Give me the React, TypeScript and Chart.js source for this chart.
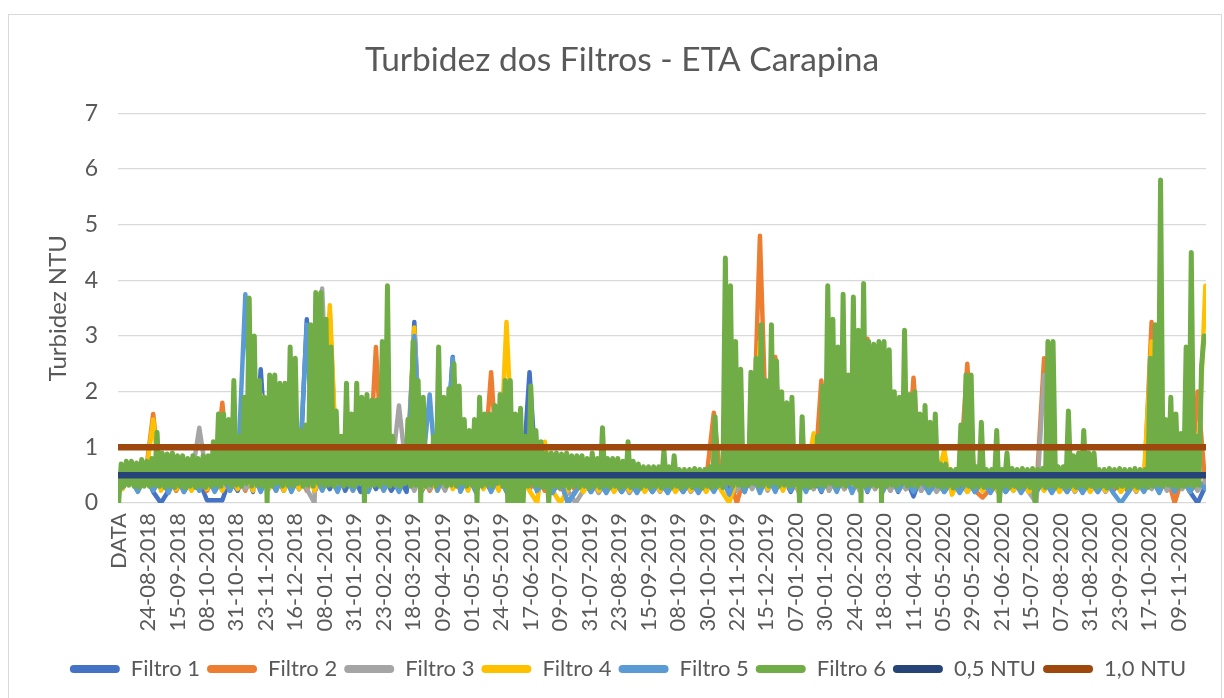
import React, { useEffect, useRef } from "react";
import { Chart, registerables } from "chart.js";

Chart.register(...registerables);

// ---- Category tick labels (one label every LABEL_STEP rows) ----
const tickLabels = [
  "DATA", "24-08-2018", "15-09-2018", "08-10-2018", "31-10-2018", "23-11-2018", "16-12-2018",
  "08-01-2019", "31-01-2019", "23-02-2019", "18-03-2019", "09-04-2019", "01-05-2019", "24-05-2019",
  "17-06-2019", "09-07-2019", "31-07-2019", "23-08-2019", "15-09-2019", "08-10-2019", "30-10-2019",
  "22-11-2019", "15-12-2019", "07-01-2020", "30-01-2020", "24-02-2020", "18-03-2020", "11-04-2020",
  "05-05-2020", "29-05-2020", "21-06-2020", "15-07-2020", "07-08-2020", "31-08-2020", "23-09-2020",
  "17-10-2020", "09-11-2020",
];
const LABEL_STEP = 23;
const N_ROWS = 850;

// Filtro 6 sampled every 2 rows (row = 2*i)
const STEP_F6 = 2;
const filtro6 = [
  0, 0.7, 0.3, 0.75, 0.32, 0.75, 0.3, 0.72, 0.28, 0.78,
  0.3, 0.75, 0.3, 0.8, 0.32, 1.27, 0.3, 0.9, 0.28, 0.88,
  0.3, 0.9, 0.28, 0.85, 0.3, 0.85, 0.27, 0.8, 0.3, 0.85,
  0.28, 0.8, 0.3, 0.85, 0.28, 0.85, 0.3, 1.1, 0.32, 1.6,
  0.3, 1.6, 0.35, 1.5, 0.3, 2.2, 0.32, 1.2, 0.3, 1.9,
  0.35, 3.68, 0.3, 3.0, 0.32, 2.2, 0.3, 1.9, 0, 2.3,
  0.3, 2.3, 0.35, 2.15, 0.3, 2.15, 0.32, 2.8, 0.3, 2.6,
  0.35, 1.3, 0.3, 1.4, 0.32, 3.2, 0.3, 3.78, 0.35, 3.78,
  0.3, 3.3, 0.32, 2.8, 0.3, 1.65, 0.35, 1.2, 0.3, 2.15,
  0.32, 1.6, 0.3, 2.15, 0.35, 1.9, 0, 1.95, 0.3, 1.85,
  0.32, 1.85, 0.3, 2.9, 0.35, 3.9, 0.3, 1.2, 0.32, 1.0,
  0.3, 1.0, 0.35, 1.5, 0.3, 2.9, 0.32, 2.2, 0, 1.9,
  0.3, 1.0, 0.32, 1.2, 0.3, 2.8, 0.35, 1.9, 0.3, 2.05,
  0.32, 2.5, 0.3, 2.1, 0.35, 1.5, 0.3, 1.3, 0.32, 1.5,
  0, 1.9, 0.3, 1.6, 0.32, 1.6, 0.3, 1.75, 0.35, 1.95,
  0.3, 2.2, 0, 2.2, 0, 1.6, 0, 1.7, 0, 1.2,
  0.3, 2.1, 0.32, 1.3, 0.3, 1.1, 0.28, 0.9, 0, 0.9,
  0.3, 0.9, 0.28, 0.88, 0.3, 0.9, 0.27, 0.85, 0.3, 0.85,
  0.28, 0.85, 0.3, 0.8, 0.27, 0.9, 0.3, 0.8, 0.28, 1.35,
  0.3, 0.8, 0.28, 0.8, 0.3, 0.8, 0.27, 0.75, 0.3, 1.1,
  0.28, 0.75, 0.3, 0.7, 0.27, 0.65, 0.3, 0.65, 0.28, 0.65,
  0.3, 0.65, 0.27, 0.95, 0.3, 0.65, 0.28, 0.85, 0.3, 0.6,
  0.27, 0.6, 0.3, 0.6, 0.28, 0.62, 0.3, 0.6, 0.27, 0.6,
  0.3, 0.65, 0.28, 1.55, 0.3, 0.65, 0.28, 4.4, 0.35, 3.9,
  0.3, 2.9, 0.32, 2.4, 0.3, 1.0, 0.32, 2.35, 0.35, 2.6,
  0.3, 3.2, 0.32, 2.2, 0.3, 3.2, 0.35, 2.55, 0.3, 2.0,
  0.32, 1.8, 0.3, 1.9, 0.32, 1.0, 0, 1.55, 0.3, 1.0,
  0.28, 1.0, 0.3, 1.2, 0.32, 2.1, 0.3, 3.9, 0.35, 3.3,
  0.3, 2.8, 0.32, 3.75, 0.3, 2.3, 0.35, 3.7, 0.3, 3.1,
  0, 3.94, 0.3, 2.9, 0.32, 2.85, 0.3, 2.9, 0, 2.9,
  0.3, 2.75, 0.32, 2.0, 0.3, 1.9, 0.35, 3.1, 0.3, 1.95,
  0.32, 2.0, 0.3, 1.6, 0.35, 1.75, 0.3, 1.45, 0.32, 1.6,
  0.3, 0.7, 0.28, 0.7, 0.3, 0.6, 0.27, 0.6, 0.3, 1.4,
  0.32, 2.3, 0.3, 2.3, 0.28, 0.65, 0.3, 1.45, 0.28, 0.6,
  0.3, 0.6, 0.28, 1.3, 0, 0.6, 0.3, 0.9, 0.28, 0.62,
  0.3, 0.6, 0.27, 0.62, 0.3, 0.6, 0.28, 0.62, 0, 0.6,
  0.3, 0.62, 0.28, 2.9, 0.3, 2.9, 0.28, 0.65, 0.3, 0.65,
  0.28, 1.65, 0.3, 0.85, 0.28, 0.9, 0.3, 1.3, 0.28, 0.9,
  0.3, 0.9, 0.28, 0.6, 0.3, 0.6, 0.27, 0.62, 0.3, 0.6,
  0.28, 0.62, 0.3, 0.6, 0.27, 0.6, 0.3, 0.62, 0.28, 0.6,
  0.3, 0.6, 0.28, 2.6, 0.3, 3.2, 0.32, 5.8, 0.3, 1.5,
  0.32, 1.9, 0.3, 1.6, 0.28, 1.25, 0.3, 2.8, 0.32, 4.5,
  0.3, 1.2, 0.32, 2.45, 3.0,
];

// Filtros 1-5 sampled every 6 rows (row = 6*i + 3)
const STEP_OTHERS = 6;
const OFFSET_OTHERS = 3;
const filtro1 = [
  0.3, 0.45, 0.22, 0.5, 0.2, 0, 0.22, 0.5, 0.2, 0.45,
  0.4, 0.05, 0.05, 0.05, 0.45, 0.22, 0.6, 0.2, 2.4, 0.25,
  0.5, 0.22, 0.6, 0.25, 3.3, 0.2, 0.5, 0.25, 0.6, 0.22,
  0.5, 0.2, 0.55, 0.25, 0.5, 0.22, 0.45, 0.2, 3.25, 0.22,
  0.5, 0.25, 0.55, 2.62, 0.22, 0.5, 0.2, 0.45, 0.22, 0.5,
  0.2, 0.45, 0.22, 2.35, 0.2, 0.45, 0.22, 0.4, 0, 0.22,
  0.4, 0.2, 0.45, 0.22, 0.4, 0.2, 0.42, 0.22, 0.4, 0.2,
  0.42, 0.22, 0.4, 0.2, 0.45, 0.22, 0.4, 0.25, 0.5, 0.22,
  0.5, 0.2, 0.6, 0.25, 0.55, 0.22, 0.5, 0.2, 0.45, 0.22,
  0.5, 0.2, 0.55, 0.25, 0.5, 0.22, 0.6, 0.2, 0.5, 0.25,
  0.5, 0.2, 0.45, 0.12, 0.5, 0.22, 0.45, 0.2, 0.4, 0.22,
  0.45, 0.2, 0.4, 0.22, 0.42, 0.2, 0.4, 0.22, 0.4, 0.2,
  0.45, 0.22, 0.4, 0.2, 0.42, 0.22, 0.4, 0.2, 0.42, 0.22,
  0.4, 0.2, 0.42, 0.22, 0.45, 0.2, 0.5, 0.22, 0.45, 0.2,
  0, 0.3,
];
const filtro2 = [
  0.28, 0.45, 0.25, 0.5, 1.6, 0.25, 0.45, 0.22, 0.5, 0.25,
  0.45, 0.22, 0.5, 1.8, 0.25, 0.5, 0.22, 0.55, 0.25, 0.5,
  0.22, 0.55, 0.25, 0.5, 0.22, 0.55, 0.25, 3.4, 0.22, 0.5,
  0.25, 0.55, 0.22, 2.8, 0.25, 0.5, 0.22, 0.55, 0.25, 0.5,
  0.22, 0.5, 0.25, 0.55, 0.22, 0.5, 0.25, 0.5, 2.35, 0.25,
  0.5, 0.22, 0.45, 0.25, 0.45, 0.22, 0.4, 0.25, 0.42, 0.22,
  0.4, 0.25, 0.42, 0.22, 0.4, 0.25, 0.42, 0.22, 0.4, 0.25,
  0.42, 0.22, 0.4, 0.25, 0.42, 0.22, 0.4, 1.62, 0.25, 0.45,
  0, 0.5, 0.45, 4.8, 0.4, 2.62, 0.25, 0.5, 0.22, 0.55,
  0.25, 2.2, 0.22, 0.55, 0.25, 0.5, 0.22, 2.95, 0.25, 0.5,
  0.22, 0.55, 0.25, 2.25, 0.22, 0.5, 0.25, 0.45, 0.22, 0.4,
  2.5, 0.22, 0.1, 0.25, 0.45, 0.22, 0.4, 0.25, 0.42, 0.22,
  2.6, 0.25, 0.42, 0.22, 0.4, 0.25, 0.42, 0.22, 0.4, 0.25,
  0.42, 0.22, 0.4, 0.25, 3.25, 0.22, 0.5, 0, 0.45, 0.22,
  2.0, 0.3,
];
const filtro3 = [
  0.3, 0.45, 0.22, 0.5, 0.25, 0.45, 0.22, 0.5, 0.25, 0.45,
  1.35, 0.45, 0.25, 0.5, 0.22, 0.55, 0.25, 0.5, 0.22, 0.55,
  0.25, 0.5, 0.22, 0.55, 0.25, 0, 3.85, 0.5, 0.22, 0.55,
  0.25, 0.5, 0.22, 0.55, 0.25, 0.5, 1.75, 0.5, 0.22, 0.55,
  0.25, 0.5, 0.22, 0.55, 0.25, 0.5, 0.22, 0.55, 0.25, 0.5,
  0.22, 0.45, 0.25, 0.45, 0.22, 0.4, 0.25, 0.42, 0.22, 0,
  0.22, 0.42, 0.18, 0.4, 0.22, 0.42, 0.18, 0.4, 0.22, 0.42,
  0.2, 0.4, 0.22, 0.42, 0.2, 0.4, 0.22, 0.45, 0.25, 0.5,
  0.22, 0.5, 0.25, 0.55, 0.22, 0.5, 0.25, 0.55, 0.22, 0.5,
  0.25, 0.55, 0.22, 0.5, 0.25, 0.55, 0.22, 0.5, 0.25, 0.55,
  0.22, 0.5, 0.25, 0.45, 0.22, 0.42, 0.2, 0.4, 0.22, 0.42,
  0.2, 0.4, 0.22, 0.42, 0.2, 0.4, 0.22, 0.42, 0.2, 0,
  2.3, 0.4, 0.22, 0.42, 0.2, 0.4, 0.22, 0.42, 0.2, 0.4,
  0.22, 0.42, 0.2, 0.45, 0.25, 0.5, 0.22, 0.5, 0.25, 0.45,
  0.22, 0.4,
];
const filtro4 = [
  0.25, 0.5, 0.22, 0.45, 1.5, 0.22, 0.5, 0.25, 0.45, 0.22,
  0.5, 0.25, 0.45, 0.22, 0.5, 0.25, 0.55, 0.22, 1.95, 0.25,
  0.55, 0.22, 0.5, 0.25, 0.55, 0.22, 0.5, 3.55, 0.25, 0.55,
  0.22, 0.5, 0.25, 0.55, 0.22, 0.5, 0.25, 0.55, 3.15, 0.25,
  0.5, 0.22, 0.55, 0.25, 0.5, 0.22, 0.55, 0.25, 0.5, 0.22,
  3.25, 0.25, 0.45, 0.22, 0, 1.1, 0.22, 0, 0.25, 0.42,
  0.2, 0.4, 0.22, 0.42, 0.2, 0.4, 0.22, 0.42, 0.2, 0.4,
  0.22, 0.42, 0.2, 0.4, 0.22, 0.42, 0.2, 0.45, 0.22, 0,
  0.45, 0.22, 0.55, 2.9, 0.25, 0.5, 0.22, 0.55, 0.25, 0.5,
  1.25, 0.25, 0.55, 0.22, 0.5, 0.25, 0.55, 0.22, 0.5, 0.25,
  0.55, 0.22, 0.5, 0.25, 0.45, 0.22, 0.42, 0.95, 0.15, 0.42,
  0.2, 0.4, 0.22, 0.42, 0.2, 0.4, 0.22, 0.42, 0.2, 0.4,
  0.22, 0.45, 0.2, 0.4, 0.22, 0.42, 0.2, 0.4, 0.22, 0.42,
  0.2, 0.4, 0.22, 0.45, 2.9, 0.22, 0.5, 0.25, 0.45, 0.2,
  0.5, 3.9,
];
const filtro5 = [
  0.28, 0.45, 0.2, 0.5, 0.22, 0.45, 0.18, 0.5, 0.2, 0.45,
  0.22, 0.5, 0.2, 0.45, 0.22, 0.5, 3.75, 0.55, 0.2, 0.5,
  0.22, 0.55, 0.2, 0.5, 3.2, 0.55, 0.22, 0.5, 0.2, 0.55,
  0.22, 0.5, 0.2, 0.55, 0.22, 0.5, 0.2, 0.55, 3.0, 0.5,
  1.95, 0.22, 0.55, 2.6, 0.2, 0.5, 0.22, 0.55, 0.2, 0.5,
  0.22, 0.45, 0.2, 0.5, 0.22, 0.4, 0.18, 0.42, 0, 0.2,
  0.42, 0.2, 0.4, 0.18, 0.42, 0.2, 0.4, 0.18, 0.42, 0.2,
  0.4, 0.18, 0.42, 0.2, 0.4, 0.18, 0.42, 0.2, 0.45, 0.15,
  0.5, 0.2, 0.55, 0.18, 0.5, 0.2, 0.55, 0.22, 0.5, 0.2,
  0.55, 0.22, 0.5, 0.2, 0.55, 0.18, 0.5, 0.22, 0.55, 0.2,
  0.5, 0.22, 0.45, 0.2, 0.42, 0.18, 0.4, 0.2, 0.42, 0.18,
  0.4, 0.2, 0.42, 0.18, 0.4, 0.2, 0.42, 0.18, 0.4, 0.2,
  0.42, 0.18, 0.4, 0.2, 0.42, 0.18, 0.4, 0.2, 0.42, 0.18,
  0, 0.2, 0.42, 0.2, 0.45, 0.18, 0.5, 0.2, 0.45, 0.2,
  0.4, 0.25,
];

// Reference limits
const limite05 = 0.5;
const limite10 = 1.0;

const FONT = "Lato, 'Open Sans', 'Liberation Sans', sans-serif";
const TEXT = "#595959";

export default function App() {
  const ref = useRef<HTMLCanvasElement | null>(null);

  useEffect(() => {
    document.body.style.margin = "0";
    const pts = (arr: number[], step: number, off: number) =>
      arr.map((y, i) => ({ x: i * step + off, y }));
    const flat = (v: number) => [
      { x: 0, y: v },
      { x: N_ROWS - 1, y: v },
    ];
    const base = (label: string, data: any[], color: string, width: number, order: number) => ({
      label,
      data,
      borderColor: color,
      backgroundColor: color,
      borderWidth: width,
      pointRadius: 0,
      pointHoverRadius: 0,
      borderJoinStyle: "round",
      borderCapStyle: "round",
      tension: 0,
      fill: false,
      order,
    });

    const shiftLegend = {
      id: "shiftLegend",
      afterLayout(chart: any) {
        const l = chart.legend;
        if (l) {
          l.left += 6;
          l.right += 6;
        }
      },
    };

    const chart = new Chart(ref.current as HTMLCanvasElement, {
      type: "line",
      data: {
        datasets: [
          base("Filtro 1", pts(filtro1, STEP_OTHERS, OFFSET_OTHERS), "#4472C4", 4.5, 8),
          base("Filtro 2", pts(filtro2, STEP_OTHERS, OFFSET_OTHERS), "#ED7D31", 4.5, 7),
          base("Filtro 3", pts(filtro3, STEP_OTHERS, OFFSET_OTHERS), "#A5A5A5", 4.5, 6),
          base("Filtro 4", pts(filtro4, STEP_OTHERS, OFFSET_OTHERS), "#FFC000", 4.5, 5),
          base("Filtro 5", pts(filtro5, STEP_OTHERS, OFFSET_OTHERS), "#5B9BD5", 4.5, 4),
          base("Filtro 6", pts(filtro6, STEP_F6, 0), "#70AD47", 5, 3),
          base("0,5 NTU", flat(limite05), "#264478", 6.5, 2),
          base("1,0 NTU", flat(limite10), "#9E480E", 6.5, 1),
        ] as any,
      },
      options: {
        responsive: false,
        animation: false,
        events: [],
        layout: { padding: { left: 38, right: 18, top: 22, bottom: 8 } },
        plugins: {
          title: {
            display: true,
            text: "Turbidez dos Filtros - ETA Carapina",
            color: TEXT,
            font: { family: FONT, size: 33.5, weight: "normal" },
            padding: { top: 18, bottom: 33 },
          },
          legend: {
            position: "bottom",
            labels: {
              boxWidth: 50,
              boxHeight: 8,
              padding: 7,
              color: TEXT,
              font: { family: FONT, size: 22 },
              useBorderRadius: true,
              borderRadius: 4,
              generateLabels: (chart: any) => {
                const items = (Chart.defaults.plugins.legend.labels as any).generateLabels(chart);
                items.forEach((it: any) => {
                  it.lineWidth = 0;
                  it.fillStyle = it.strokeStyle;
                });
                return items.sort((a: any, b: any) => a.datasetIndex - b.datasetIndex);
              },
            },
          },
          tooltip: { enabled: false },
        },
        scales: {
          x: {
            type: "linear",
            min: -0.5,
            max: N_ROWS - 0.5,
            afterBuildTicks: (axis: any) => {
              axis.ticks = tickLabels.map((_, i) => ({ value: i * LABEL_STEP }));
            },
            afterFit: (s: any) => {
              s.height = 148;
            },
            ticks: {
              autoSkip: false,
              maxRotation: 90,
              minRotation: 90,
              padding: 10,
              color: TEXT,
              font: { family: FONT, size: 22 },
              callback: (v: any) => tickLabels[Math.round(Number(v) / LABEL_STEP)] ?? "",
            },
            grid: { display: false, drawTicks: false },
            border: { display: false },
          },
          y: {
            min: 0,
            max: 7,
            afterFit: (s: any) => {
              s.width = 80;
            },
            ticks: {
              stepSize: 1,
              padding: 20,
              color: TEXT,
              font: { family: FONT, size: 23 },
            },
            grid: { color: "#D9D9D9", lineWidth: 1.3, drawTicks: false },
            border: { display: false },
            title: {
              display: true,
              text: "Turbidez NTU",
              color: TEXT,
              font: { family: FONT, size: 24 },
              padding: { top: 6, bottom: 0 },
            },
          },
        },
      } as any,
      plugins: [shiftLegend],
    });
    return () => chart.destroy();
  }, []);

  return (
    <div style={{ position: "relative", width: 1224, height: 698, overflow: "hidden", background: "#fff" }}>
      <div
        style={{
          position: "absolute",
          left: 8,
          top: 14,
          width: 1214,
          height: 700,
          border: "1.5px solid #D9D9D9",
          boxSizing: "border-box",
        }}
      />
      <canvas ref={ref} width={1224} height={698} style={{ position: "absolute", left: 0, top: 0 }} />
    </div>
  );
}
